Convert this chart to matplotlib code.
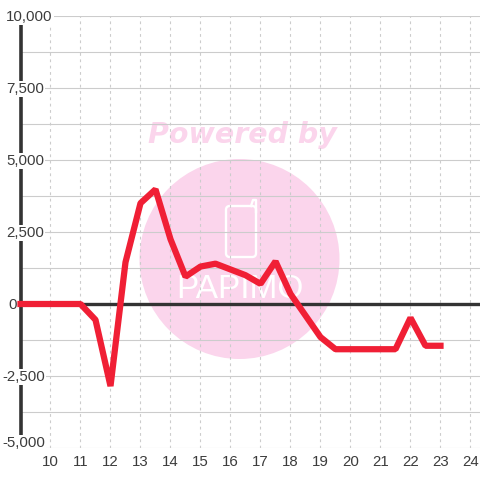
import matplotlib
matplotlib.use("Agg")
import matplotlib.pyplot as plt
from matplotlib.lines import Line2D
from matplotlib.patches import Circle, FancyBboxPatch

plt.rcParams['font.family'] = ['Liberation Sans', 'DejaVu Sans']

hours = [9, 9.5, 10, 10.5, 11, 11.5, 12, 12.5, 13, 13.5, 14, 14.5, 15, 15.5, 16, 16.5,
         17, 17.5, 18, 18.5, 19, 19.5, 20, 20.5, 21, 21.5, 22, 22.5, 23]
values = [0, 0, 0, 0, 0, -550, -2850, 1450, 3500, 3980, 2250, 950, 1300, 1400, 1200, 1000,
          700, 1480, 350, -400, -1150, -1570, -1570, -1570, -1570, -1570, -480, -1450, -1450]
x_ticks = list(range(10, 25))
y_major = [-5000, -2500, 0, 2500, 5000, 7500, 10000]
y_minor = [-3750, -1250, 1250, 3750, 6250, 8750]
y_labels = ["-5,000", "-2,500", "0", "2,500", "5,000", "7,500", "10,000"]

TEXT = "#3c3c3c"
GRID = "#cccccc"
DARK = "#333333"
RED = "#f01f35"
PINK = "#fbd5ec"

fig = plt.figure(figsize=(4.8, 4.8), dpi=100)
# axes box in pixels: x 20.5..480, y 16..448
ax = fig.add_axes([20.5 / 480, 32 / 480, 459.5 / 480, 432 / 480])
ax.set_facecolor("none")
ax.set_xlim(9, 24.317)
ax.set_ylim(-5000, 10000)

# watermark sits behind the axes
fig.add_artist(Circle((239.5 / 480, 221 / 480), 100 / 480, color=PINK, lw=0,
                      transform=fig.transFigure, zorder=-2))
fig.text(242 / 480, 345 / 480, "Powered by", color=PINK, fontsize=20.5, fontweight="bold",
         fontstyle="italic", family="DejaVu Sans", ha="center", va="center", zorder=-2)
fig.add_artist(FancyBboxPatch((226 / 480, 223 / 480), 30 / 480, 51 / 480,
                              boxstyle="round,pad=0,rounding_size=0.008", fc="none", ec="white",
                              lw=1.7, transform=fig.transFigure, zorder=-1))
fig.add_artist(Line2D([251 / 480, 253 / 480, 256 / 480, 256 / 480],
                      [274 / 480, 280 / 480, 280 / 480, 268 / 480],
                      color="white", lw=1.7, transform=fig.transFigure, zorder=-1))
fig.text(240 / 480, 190 / 480, "PAPIMO", color="white", fontsize=24, ha="center", va="center",
         zorder=-1)

for s in ["top", "right", "bottom"]:
    ax.spines[s].set_visible(False)
ax.spines["left"].set_linewidth(2.6)
ax.spines["left"].set_color(DARK)
ax.spines["left"].set_zorder(2)

ax.set_xticks(x_ticks)
ax.set_yticks(y_major)
ax.set_yticks(y_minor, minor=True)
ax.set_yticklabels([])
ax.tick_params(axis="both", which="both", length=0)
ax.tick_params(axis="x", labelsize=10.8, labelcolor=TEXT, pad=5)
ax.grid(True, axis="y", which="both", color=GRID, lw=0.8, zorder=1)
ax.grid(True, axis="x", which="major", color=GRID, lw=0.8, ls=(0, (2.5, 3.2)), zorder=1)
ax.set_axisbelow(True)

ax.axhline(0, color=DARK, lw=2.4, zorder=2)
ax.plot(hours, values, color=RED, lw=4.5, solid_joinstyle="bevel",
        solid_capstyle="projecting", clip_on=False, zorder=3)

for val, lab in zip(y_major, y_labels):
    left = 2 if val < 0 else (8 if val == 0 else 6)
    dy = 5 if val == -5000 else -1
    ax.annotate(lab, xy=(left, val), xycoords=("figure pixels", "data"), xytext=(0, dy * 0.72),
                textcoords="offset points", ha="left", va="center", fontsize=10.8, color=TEXT,
                annotation_clip=False, zorder=4,
                bbox=dict(fc="white", ec="none", pad=1) if val != 0 else None)

fig.savefig("out.png", dpi=100, facecolor="white")
